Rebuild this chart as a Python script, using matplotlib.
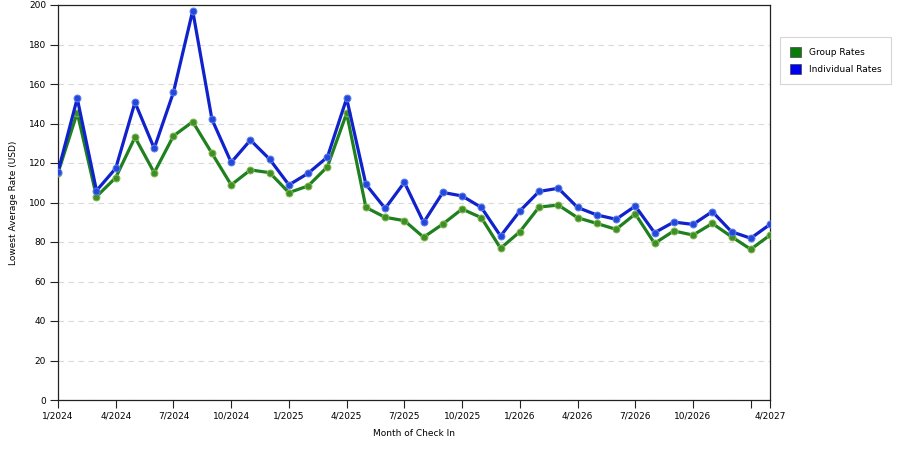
import matplotlib
matplotlib.use("Agg")
import matplotlib.pyplot as plt
from matplotlib.patches import Patch

months = list(range(38))  # 1/2024 .. 2/2027
tick_pos = [0, 3, 6, 9, 12, 15, 18, 21, 24, 27, 30, 33, 36, 37]
tick_labels = ["1/2024", "4/2024", "7/2024", "10/2024", "1/2025", "4/2025", "7/2025",
               "10/2025", "1/2026", "4/2026", "7/2026", "10/2026", "", "4/2027"]

group_rates = [115, 145.5, 103, 112.6, 133, 115.1, 133.7, 140.9, 124.9, 108.9,
               116.5, 115.1, 105, 108.4, 118.1, 145.2, 97.5, 92.5, 90.8, 82.4,
               89.1, 96.7, 92.3, 76.8, 85.2, 97.7, 98.7, 92.3, 89.4, 86.4,
               94.2, 79.3, 85.6, 83.5, 89.4, 82.7, 76.3, 83.5]
individual_rates = [115.6, 152.7, 106, 117.3, 150.7, 127.4, 155.8, 197.1, 142.1, 120.3,
                    131.6, 121.9, 108.9, 114.8, 123, 152.7, 109.2, 97, 110.2, 89.9,
                    105.1, 103.3, 97.5, 83, 95.7, 105.6, 107.2, 97.5, 93.7, 91.5,
                    98.2, 84.7, 90.1, 88.9, 95.4, 85.2, 81.9, 88.9]

plt.rcParams['font.family'] = ['DejaVu Sans']
fig = plt.figure(figsize=(9, 4.5), dpi=100)
ax = fig.add_axes([58/900, 1-400/450, (770-58)/900, (400-5)/450])

green = "#1f801f"
blue = "#0f22cc"
ax.plot(months, group_rates, color=green, lw=2.3, marker='o', ms=5,
        mfc="#3d8f28", mec="#86b850", mew=0.7, zorder=3, label="Group Rates")
ax.plot(months, individual_rates, color=blue, lw=2.3, marker='o', ms=5,
        mfc="#2448dc", mec="#5f80ea", mew=0.7, zorder=4, label="Individual Rates")

ax.set_xlim(0, 37)
ax.set_ylim(0, 200)
ax.set_yticks(range(0, 201, 20))
ax.set_xticks(tick_pos)
ax.set_xticklabels(tick_labels)
ax.tick_params(axis='both', labelsize=6.5, length=6, width=0.8, color='#222222', pad=2.5)
ax.yaxis.grid(True, ls=(0, (5, 4)), color='#d9d9d9', lw=0.8)
ax.set_axisbelow(True)
for s in ax.spines.values():
    s.set_color('#222222')
    s.set_linewidth(0.9)

ax.set_xlabel("Month of Check In", fontsize=6.5, labelpad=6)
ax.set_ylabel("Lowest Average Rate (USD)", fontsize=6.5, labelpad=8)

handles = [Patch(facecolor="#0a7a0a", edgecolor="#444444", lw=0.5),
           Patch(facecolor="#0000f0", edgecolor="#444444", lw=0.5)]
leg = fig.legend(handles, ["Group Rates", "Individual Rates"],
                 loc='upper left', bbox_to_anchor=(780/900, 1-37/450),
                 fontsize=6.5, frameon=True, fancybox=False,
                 edgecolor='#cccccc', handlelength=1.2, handleheight=1.3,
                 borderpad=1.1, labelspacing=0.8, handletextpad=0.9, borderaxespad=0)
leg.get_frame().set_linewidth(0.8)

fig.savefig("out.png", dpi=100)
